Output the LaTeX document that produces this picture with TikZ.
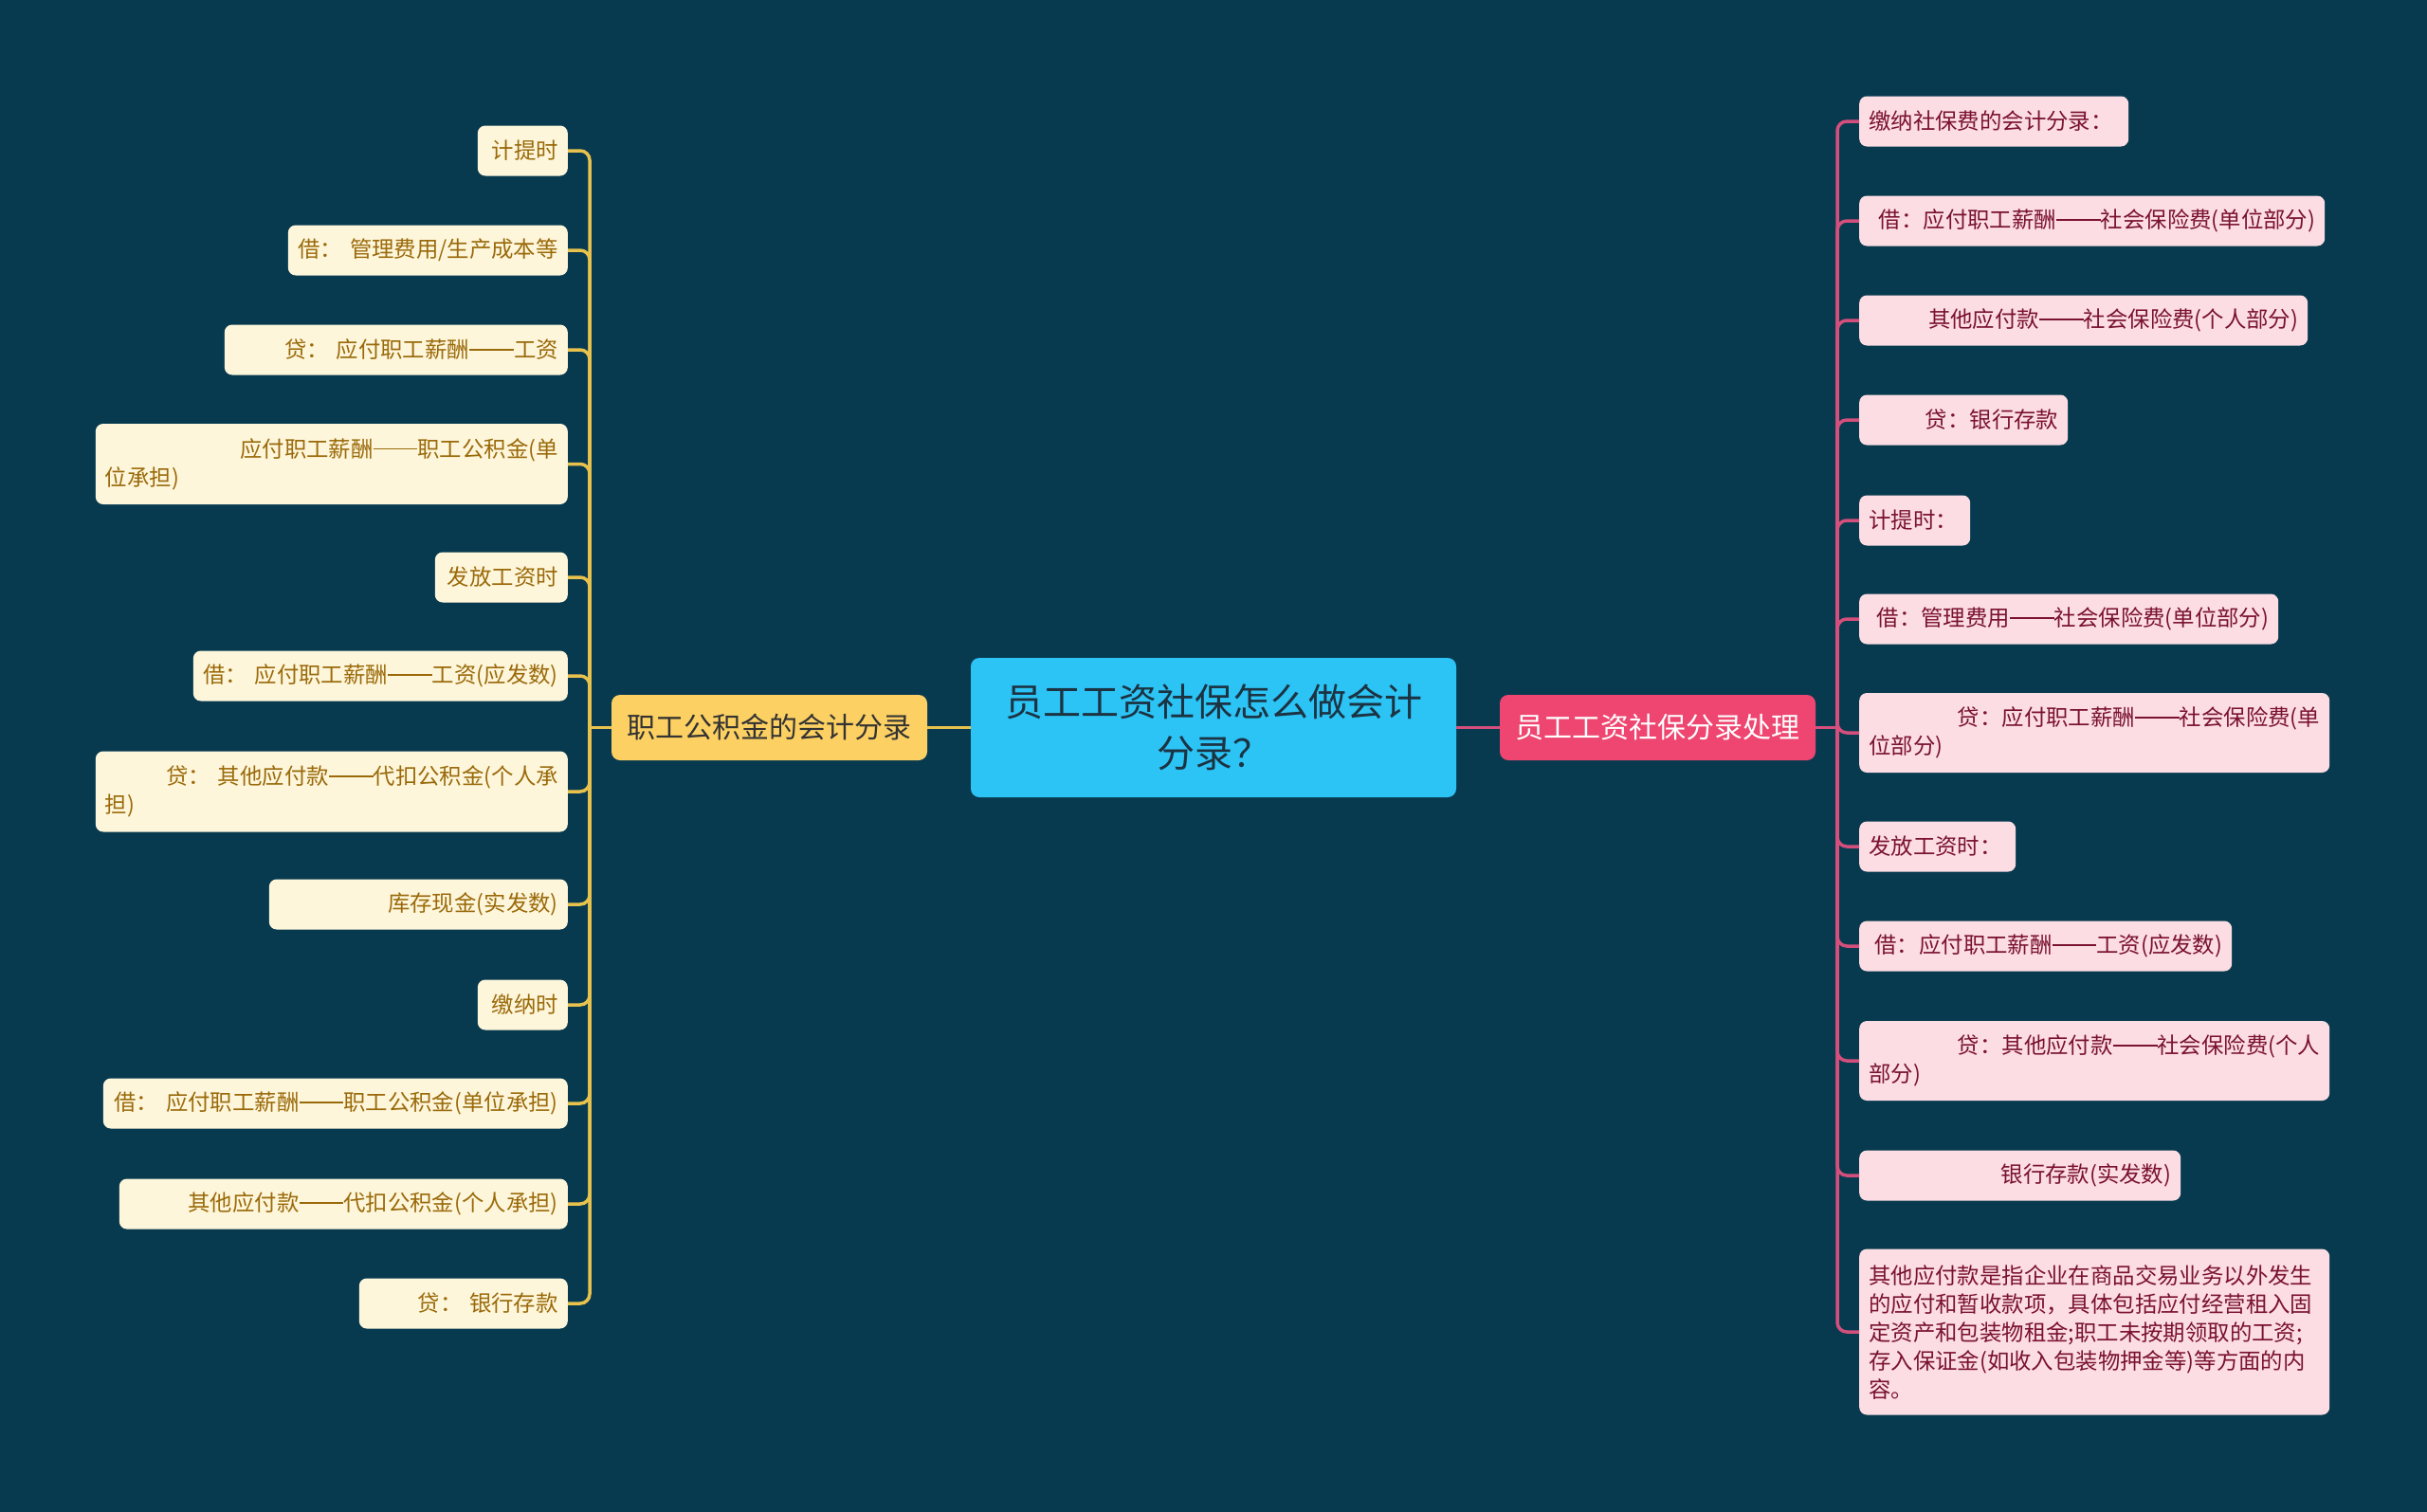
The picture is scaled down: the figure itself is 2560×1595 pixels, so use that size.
\documentclass[tikz,border=0pt]{standalone}
\usepackage{fontspec}
\setmainfont{Noto Sans CJK SC}
\definecolor{bgcol}{HTML}{083A4F}
\definecolor{centfill}{HTML}{2CC3F5}
\definecolor{centtext}{HTML}{1C3342}
\definecolor{lbfill}{HTML}{FCD062}
\definecolor{lbtext}{HTML}{333333}
\definecolor{rbfill}{HTML}{EE4670}
\definecolor{lleaffill}{HTML}{FEF6DB}
\definecolor{lleaftext}{HTML}{9A6A0A}
\definecolor{rleaffill}{HTML}{FCDDE3}
\definecolor{rleaftext}{HTML}{7A1230}
\definecolor{lcon}{HTML}{E8C24D}
\definecolor{rcon}{HTML}{D54F7C}
\newcommand\dashpair{\rule[0.34em]{2em}{0.065em}}
\begin{document}
\begin{tikzpicture}[x=1pt,y=-1pt,
  leafbox/.style={rectangle, rounded corners=8pt, inner xsep=10pt, inner ysep=0pt,
    minimum height=53pt, font=\fontsize{23.4pt}{30pt}\selectfont},
  lleaf/.style={leafbox, fill=lleaffill, text=lleaftext, anchor=east},
  rleaf/.style={leafbox, fill=rleaffill, text=rleaftext, anchor=west},
  centbox/.style={rectangle, rounded corners=9pt, fill=centfill, text=centtext,
    minimum width=512pt, minimum height=147pt, align=center,
    font=\fontsize{40pt}{54pt}\selectfont},
  branchbox/.style={rectangle, rounded corners=9pt, minimum width=333pt,
    minimum height=69pt, font=\fontsize{30pt}{36pt}\selectfont},
  lconn/.style={draw=lcon, line width=3.5pt, rounded corners=10pt},
  rconn/.style={draw=rcon, line width=3.5pt, rounded corners=10pt}
]
\fill[bgcol] (0,0) rectangle (2560,1595);
\useasboundingbox (0,0) rectangle (2560,1595);

% centre and branches
\node[centbox] (c) at (1280,767.5) {员工工资社保怎么做会计\\分录？};
\node[branchbox, fill=lbfill, text=lbtext] (lb) at (811.5,767.5) {职工公积金的会计分录};
\node[branchbox, fill=rbfill, text=white] (rb) at (1748.5,767.5) {员工工资社保分录处理};
\coordinate (jl) at (622,767.5);
\coordinate (jr) at (1938,767.5);

% left leaves
\node[lleaf, text width=75pt, align=right] (l1) at (599,159) {计提时};
\node[lleaf, text width=275pt, align=right] (l2) at (599,264) {借：~管理费用/生产成本等};
\node[lleaf, text width=342pt, align=right] (l3) at (599,369) {贷：~应付职工薪酬\dashpair 工资};
\node[lleaf, text width=478pt, align=left, minimum height=85pt] (l4) at (599,489.5) {\hfill 应付职工薪酬\dashpair 职工公积金(单\\位承担)};
\node[lleaf, text width=120pt, align=right] (l5) at (599,609) {发放工资时};
\node[lleaf, text width=375pt, align=right] (l6) at (599,713) {借：~应付职工薪酬\dashpair 工资(应发数)};
\node[lleaf, text width=478pt, align=left, minimum height=85pt] (l7) at (599,835) {\hfill 贷：~其他应付款\dashpair 代扣公积金(个人承\\担)};
\node[lleaf, text width=295pt, align=right] (l8) at (599,954) {库存现金(实发数)};
\node[lleaf, text width=75pt, align=right] (l9) at (599,1060) {缴纳时};
\node[lleaf, text width=470pt, align=right] (l10) at (599,1164) {借：~应付职工薪酬\dashpair 职工公积金(单位承担)};
\node[lleaf, text width=453pt, align=right] (l11) at (599,1270) {其他应付款\dashpair 代扣公积金(个人承担)};
\node[lleaf, text width=200pt, align=right] (l12) at (599,1375) {贷：~银行存款};

% right leaves
\node[rleaf, text width=264pt, align=left] (r1) at (1961,128) {缴纳社保费的会计分录：};
\node[rleaf, text width=471pt, align=right] (r2) at (1961,233) {借：应付职工薪酬\dashpair 社会保险费(单位部分)};
\node[rleaf, text width=453pt, align=right] (r3) at (1961,338) {其他应付款\dashpair 社会保险费(个人部分)};
\node[rleaf, text width=200pt, align=right] (r4) at (1961,443) {贷：银行存款};
\node[rleaf, text width=97pt, align=left] (r5) at (1961,549) {计提时：};
\node[rleaf, text width=422pt, align=right] (r6) at (1961,653) {借：管理费用\dashpair 社会保险费(单位部分)};
\node[rleaf, text width=476pt, align=left, minimum height=84pt] (r7) at (1961,773) {\hfill 贷：应付职工薪酬\dashpair 社会保险费(单\\位部分)};
\node[rleaf, text width=145pt, align=left] (r8) at (1961,893) {发放工资时：};
\node[rleaf, text width=373pt, align=right] (r9) at (1961,998) {借：应付职工薪酬\dashpair 工资(应发数)};
\node[rleaf, text width=476pt, align=left, minimum height=84pt] (r10) at (1961,1119) {\hfill 贷：其他应付款\dashpair 社会保险费(个人\\部分)};
\node[rleaf, text width=319pt, align=right] (r11) at (1961,1240) {银行存款(实发数)};
\node[rleaf, text width=476pt, align=left, minimum height=175pt] (r12) at (1961,1405) {其他应付款是指企业在商品交易业务以外发生\\的应付和暂收款项，具体包括应付经营租入固\\定资产和包装物租金;职工未按期领取的工资;\\存入保证金(如收入包装物押金等)等方面的内\\容。};

% connectors
\draw[lconn] (c.west) -- (lb.east);
\draw[lconn] (lb.west) -- (jl);
\foreach \n in {l1,l2,l3,l4,l5,l6,l7,l8,l9,l10,l11,l12}
  \draw[lconn] (jl) |- (\n.east);
\draw[rconn] (c.east) -- (rb.west);
\draw[rconn] (rb.east) -- (jr);
\foreach \n in {r1,r2,r3,r4,r5,r6,r7,r8,r9,r10,r11,r12}
  \draw[rconn] (jr) |- (\n.west);
\end{tikzpicture}
\end{document}
